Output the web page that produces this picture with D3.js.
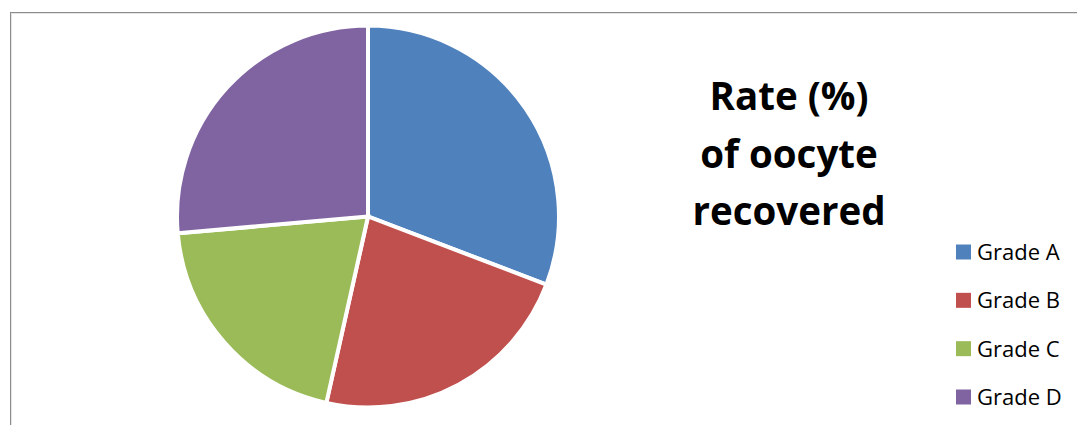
<!DOCTYPE html>
<html><head><meta charset="utf-8">
<script src="https://cdn.jsdelivr.net/npm/d3@7"></script>
<style>body{margin:0;background:#fff}svg{display:block}</style>
</head><body>
<script>
const categories = ["Grade A", "Grade B", "Grade C", "Grade D"];
const values = [30.8, 22.7, 20.1, 26.4];
const colors = ["#4F81BD", "#C0504D", "#9BBB59", "#8064A2"];
const titleLines = ["Rate (%)", "of oocyte", "recovered"];

const W = 1077, H = 425;
const svg = d3.select("body").append("svg").attr("width", W).attr("height", H);

// frame
svg.append("rect").attr("x", 11.5).attr("y", 13.5).attr("width", W + 10).attr("height", H + 10)
  .attr("fill", "none").attr("stroke", "#e4e4e4").attr("stroke-width", 1);
svg.append("rect").attr("x", 10.5).attr("y", 12.5).attr("width", W + 10).attr("height", H + 10)
  .attr("fill", "none").attr("stroke", "#8c8c8c").attr("stroke-width", 1);

const cx = 368, cy = 216.5, r = 191;
const pie = d3.pie().sort(null).value(d => d)(values);
const arc = d3.arc().innerRadius(0).outerRadius(r);
const g = svg.append("g").attr("transform", `translate(${cx},${cy})`);
g.selectAll("path").data(pie).join("path")
  .attr("d", arc)
  .attr("fill", (d, i) => colors[i])
  .attr("stroke", "#fff").attr("stroke-width", 4).attr("stroke-linejoin", "miter");

// title
const t = svg.append("text").attr("font-family", "Open Sans").attr("font-weight", "bold")
  .attr("font-size", 38.5).attr("text-anchor", "middle").attr("fill", "#000");
titleLines.forEach((s, i) => {
  t.append("tspan").attr("x", 789).attr("y", 110 + i * 57.5).text(s);
});

// legend
const y = d3.scalePoint().domain(categories).range([252, 397]);
const lg = svg.append("g");
categories.forEach((c, i) => {
  lg.append("rect").attr("x", 956).attr("y", y(c) - 7.5).attr("width", 15).attr("height", 15).attr("fill", colors[i]);
  lg.append("text").attr("x", 977).attr("y", y(c)).attr("dy", "0.36em")
    .attr("font-family", "Open Sans").attr("font-size", 22).attr("fill", "#000").text(c);
});
</script>
</body></html>
